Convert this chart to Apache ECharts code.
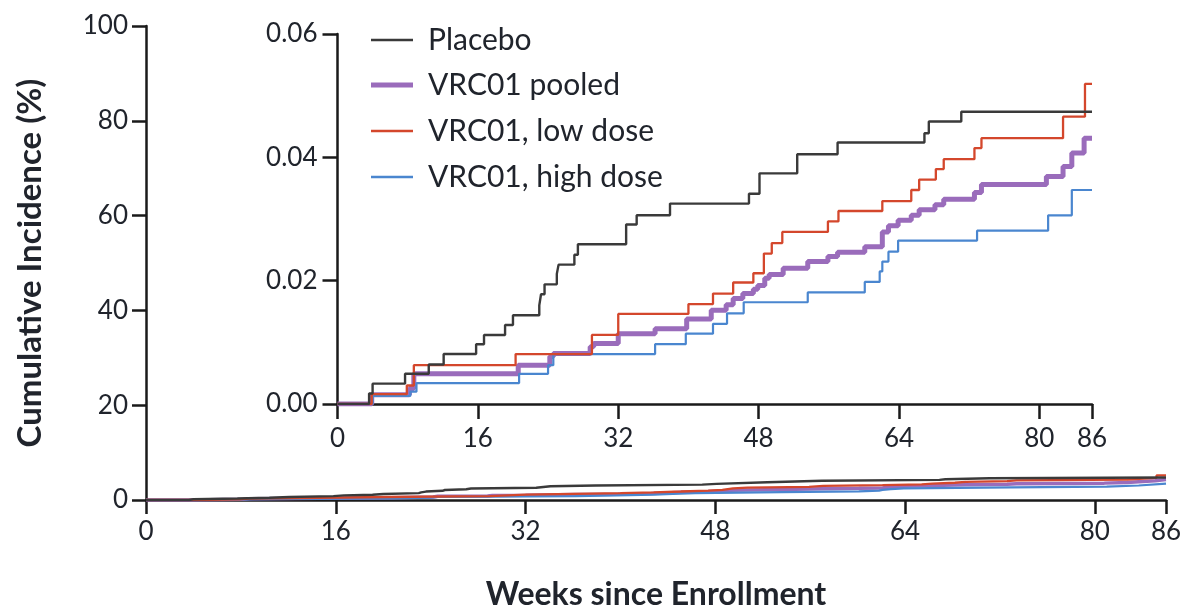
<!DOCTYPE html>
<html>
<head>
<meta charset="utf-8">
<script src="https://cdn.jsdelivr.net/npm/echarts@6/dist/echarts.min.js"></script>
<style>
html,body{margin:0;padding:0;background:#fff;overflow:hidden;}
#chart{width:1189px;height:610px;}
</style>
</head>
<body>
<div id="chart"></div>
<script>
// ---- Data (cumulative incidence as proportion) ----
const weekTicks = [0, 16, 32, 48, 64, 80, 86];
const mainYTicks = [0, 20, 40, 60, 80, 100];
const insetYTicks = [0, 0.02, 0.04, 0.06];

const seriesNames = ['Placebo', 'VRC01 pooled', 'VRC01, low dose', 'VRC01, high dose'];

const placeboWeeks = [0, 3.6, 4.0, 7.7, 10.4, 12.1, 15.8, 16.7, 19.1, 20.0, 23.0, 23.2, 23.6, 25.0, 25.2, 27.0, 27.4, 32.9, 34.1, 37.9, 46.9, 48.1, 52.4, 57.0, 66.9, 67.4, 71.1, 86];
const placeboValues = [0, 0.0017, 0.0033, 0.0049, 0.0064, 0.0081, 0.0097, 0.0112, 0.0128, 0.0144, 0.0160, 0.0178, 0.0194, 0.0211, 0.0226, 0.0242, 0.0259, 0.0291, 0.0306, 0.0325, 0.0341, 0.0374, 0.0405, 0.0424, 0.0439, 0.0458, 0.0474, 0.0474];

const pooledWeeks = [0, 3.9, 8.2, 8.7, 20.6, 24.2, 24.6, 28.8, 29.2, 32.0, 36.2, 39.8, 42.6, 44.3, 45.1, 46.2, 47.4, 47.9, 48.7, 49.2, 50.8, 53.6, 55.9, 57.0, 60.1, 62.1, 62.8, 63.9, 65.4, 66.3, 68.1, 69.1, 72.6, 73.4, 80.8, 82.7, 83.7, 85.1, 86];
const pooledValues = [0, 0.0015, 0.0025, 0.0049, 0.0063, 0.0077, 0.0082, 0.0093, 0.0098, 0.0114, 0.0122, 0.0138, 0.0152, 0.0161, 0.0171, 0.0179, 0.0186, 0.0192, 0.0204, 0.0210, 0.0220, 0.0231, 0.0239, 0.0246, 0.0255, 0.0279, 0.0289, 0.0298, 0.0306, 0.0315, 0.0323, 0.0332, 0.0343, 0.0356, 0.0369, 0.0385, 0.0407, 0.0431, 0.0431];

const lowWeeks = [0, 3.9, 7.9, 8.7, 20.3, 29.0, 32.0, 40.0, 42.8, 45.1, 47.4, 48.6, 49.5, 50.7, 55.9, 57.1, 62.1, 65.4, 66.3, 68.2, 69.1, 72.6, 73.4, 82.7, 85.2, 86];
const lowValues = [0, 0.0016, 0.0030, 0.0063, 0.0081, 0.0112, 0.0146, 0.0162, 0.0179, 0.0197, 0.0212, 0.0244, 0.0261, 0.0279, 0.0296, 0.0313, 0.0329, 0.0347, 0.0364, 0.0381, 0.0397, 0.0415, 0.0431, 0.0466, 0.0519, 0.0519];

const highWeeks = [0, 4.0, 8.3, 9.0, 20.7, 24.0, 24.6, 36.2, 39.7, 42.8, 44.4, 46.3, 53.6, 60.1, 61.8, 62.1, 62.8, 63.9, 72.9, 81.0, 83.7, 86];
const highValues = [0, 0.0013, 0.0020, 0.0034, 0.0049, 0.0063, 0.0081, 0.0097, 0.0114, 0.0130, 0.0147, 0.0165, 0.0181, 0.0198, 0.0215, 0.0231, 0.0247, 0.0265, 0.0281, 0.0306, 0.0347, 0.0347];

// ---- Styling ----
const FONT = 'Lato';
const TXT = '#20242c';
const AX = '#1a1a1a';
const colors = {
  'Placebo': '#3a3a3a',
  'VRC01 pooled': '#9a6cbb',
  'VRC01, low dose': '#d4472c',
  'VRC01, high dose': '#4a86cf'
};
const insetWidths = {'Placebo': 2.4, 'VRC01 pooled': 5, 'VRC01, low dose': 2.3, 'VRC01, high dose': 2.2};
const mainWidths = {'Placebo': 2.4, 'VRC01 pooled': 3.5, 'VRC01, low dose': 2.3, 'VRC01, high dose': 2.2};

function pairs(ws, vs, scale) { return ws.map((w, i) => [w, vs[i] * scale]); }

const dataSets = {
  'Placebo': [placeboWeeks, placeboValues],
  'VRC01 pooled': [pooledWeeks, pooledValues],
  'VRC01, low dose': [lowWeeks, lowValues],
  'VRC01, high dose': [highWeeks, highValues]
};
const drawOrder = ['VRC01 pooled', 'VRC01, high dose', 'VRC01, low dose', 'Placebo'];

const series = [];
drawOrder.forEach((name, k) => {
  const [ws, vs] = dataSets[name];
  series.push({
    name: name, type: 'line', step: 'end', xAxisIndex: 0, yAxisIndex: 0,
    data: pairs(ws, vs, 100), symbol: 'none', silent: true, z: 2 + k,
    lineStyle: {color: colors[name], width: mainWidths[name]}, itemStyle: {color: colors[name]}
  });
  series.push({
    name: name, type: 'line', step: 'end', xAxisIndex: 1, yAxisIndex: 1,
    data: pairs(ws, vs, 1), symbol: 'none', silent: true, z: 2 + k,
    lineStyle: {color: colors[name], width: insetWidths[name]}, itemStyle: {color: colors[name]}
  });
});

const legendTops = [24, 69, 115, 161];
const legends = seriesNames.map((name, i) => ({
  data: [name], left: 371, top: legendTops[i], padding: 0,
  icon: 'rect', itemWidth: 42, itemHeight: name === 'VRC01 pooled' ? 5 : 2.3,
  selectedMode: false,
  itemStyle: {color: colors[name]},
  textStyle: {fontFamily: FONT, fontSize: 30, color: TXT, lineHeight: 32, padding: [0, 0, 0, 10]}
}));

const axisLineStyle = {lineStyle: {color: AX, width: 2.5}};
const tickStyle = (len) => ({show: true, length: len, lineStyle: {color: AX, width: 2.5}});

const option = {
  animation: false,
  backgroundColor: '#fff',
  legend: legends,
  grid: [
    {left: 146, right: 23, top: 26, bottom: 110, containLabel: false, outerBoundsMode: 'none'},
    {left: 337.5, top: 34, width: 754.5, height: 370, containLabel: false, outerBoundsMode: 'none'}
  ],
  xAxis: [
    {
      type: 'value', gridIndex: 0, min: 0, max: 86,
      axisLine: axisLineStyle,
      axisTick: Object.assign(tickStyle(14), {customValues: weekTicks}),
      axisLabel: {customValues: weekTicks, margin: 19, fontFamily: FONT, fontSize: 26, color: TXT},
      splitLine: {show: false},
      name: 'Weeks since Enrollment', nameLocation: 'middle', nameGap: 79,
      nameTextStyle: {fontFamily: FONT, fontSize: 32, fontWeight: 'bold', color: TXT}
    },
    {
      type: 'value', gridIndex: 1, min: 0, max: 86,
      axisLine: axisLineStyle,
      axisTick: Object.assign(tickStyle(15), {customValues: weekTicks}),
      axisLabel: {customValues: weekTicks, margin: 22, fontFamily: FONT, fontSize: 26, color: TXT},
      splitLine: {show: false}
    }
  ],
  yAxis: [
    {
      type: 'value', gridIndex: 0, min: 0, max: 100, interval: 20,
      axisLine: Object.assign({show: true}, axisLineStyle),
      axisTick: tickStyle(14),
      axisLabel: {margin: 18, fontFamily: FONT, fontSize: 26, color: TXT},
      splitLine: {show: false},
      name: 'Cumulative Incidence (%)', nameLocation: 'middle', nameGap: 99, nameRotate: 90,
      nameTextStyle: {fontFamily: FONT, fontSize: 33, fontWeight: 'bold', color: TXT}
    },
    {
      type: 'value', gridIndex: 1, min: 0, max: 0.06, interval: 0.02,
      axisLine: Object.assign({show: true}, axisLineStyle),
      axisTick: tickStyle(15),
      axisLabel: {margin: 20, fontFamily: FONT, fontSize: 26, color: TXT, formatter: v => v.toFixed(2)},
      splitLine: {show: false}
    }
  ],
  series: series
};

const chart = echarts.init(document.getElementById('chart'), null, {renderer: 'canvas'});
chart.setOption(option);
</script>
</body>
</html>
